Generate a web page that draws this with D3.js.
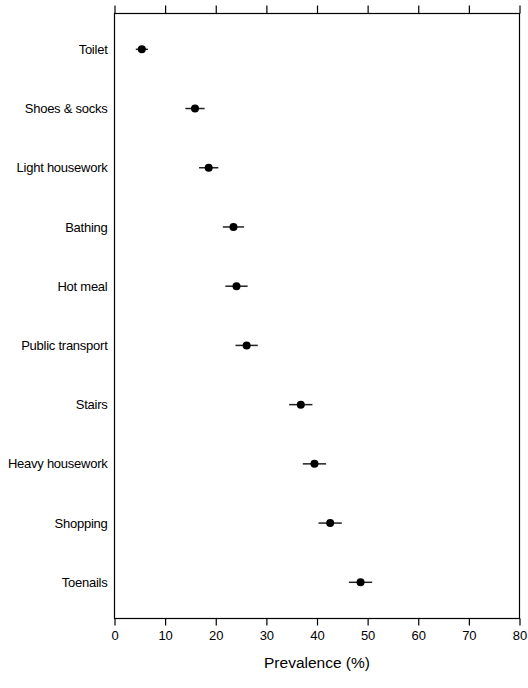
<!DOCTYPE html>
<html>
<head>
<meta charset="utf-8">
<script src="https://cdn.jsdelivr.net/npm/d3@7"></script>
<style>
body { margin: 0; background: #fff; }
text { font-family: "Liberation Sans", Arial, sans-serif; fill: #000; }
</style>
</head>
<body>
<script>
let activities = ["Toilet", "Shoes & socks", "Light housework", "Bathing", "Hot meal",
	"Public transport", "Stairs", "Heavy housework", "Shopping", "Toenails"];
let prevalence = [5.4, 15.9, 18.6, 23.5, 24.1, 26.1, 36.8, 39.5, 42.6, 48.6];
let ciHalf = [1.2, 1.9, 1.9, 2.1, 2.2, 2.2, 2.3, 2.3, 2.3, 2.3];
let xTicks = [0, 10, 20, 30, 40, 50, 60, 70, 80];

let width = 528,
	height = 688;

let plotLeft = 114.5, plotRight = 519.5, plotTop = 13.5, plotBottom = 618.5;

let svg = d3.select("body").append("svg").attr("width", width).attr("height", height);

let x = d3.scaleLinear().domain([0, 80]).range([plotLeft, plotRight]);
let y = d3.scalePoint().domain(activities).range([49.3, 582.3]);

// frame
svg.append("rect")
	.attr("x", plotLeft).attr("y", plotTop)
	.attr("width", plotRight - plotLeft).attr("height", plotBottom - plotTop)
	.attr("fill", "none").attr("stroke", "#000").attr("stroke-width", 1.2);

// bottom axis
let xAxis = svg.append("g")
	.attr("transform", "translate(0," + plotBottom + ")")
	.call(d3.axisBottom(x).tickValues(xTicks).tickSize(7).tickPadding(5).tickFormat(d3.format("d")));
xAxis.select(".domain").remove();
xAxis.selectAll("line").attr("stroke", "#000").attr("stroke-width", 1.2);
xAxis.selectAll("text").style("font-size", "13px").style("font-family", "Liberation Sans, Arial, sans-serif");

// top axis, ticks only
let xTop = svg.append("g")
	.attr("transform", "translate(0," + plotTop + ")")
	.call(d3.axisTop(x).tickValues(xTicks).tickSize(8).tickFormat(""));
xTop.select(".domain").remove();
xTop.selectAll("line").attr("stroke", "#000").attr("stroke-width", 1.2);

// category labels
svg.append("g").selectAll("text")
	.data(activities)
	.enter().append("text")
	.attr("x", 107.5)
	.attr("y", d => y(d))
	.attr("dy", "0.35em")
	.attr("text-anchor", "end")
	.style("font-size", "13px")
	.style("letter-spacing", "-0.25px")
	.text(d => d);

// error bars
svg.append("g").selectAll("line")
	.data(activities)
	.enter().append("line")
	.attr("x1", (d, i) => x(prevalence[i] - ciHalf[i]))
	.attr("x2", (d, i) => x(prevalence[i] + ciHalf[i]))
	.attr("y1", d => y(d))
	.attr("y2", d => y(d))
	.attr("stroke", "#222")
	.attr("stroke-width", 1.5);

// points
svg.append("g").selectAll("circle")
	.data(activities)
	.enter().append("circle")
	.attr("cx", (d, i) => x(prevalence[i]))
	.attr("cy", d => y(d))
	.attr("r", 4)
	.attr("fill", "#000");

// x title
svg.append("text")
	.attr("x", (plotLeft + plotRight) / 2)
	.attr("y", 668)
	.attr("text-anchor", "middle")
	.style("font-size", "15.5px")
	.text("Prevalence (%)");
</script>
</body>
</html>
